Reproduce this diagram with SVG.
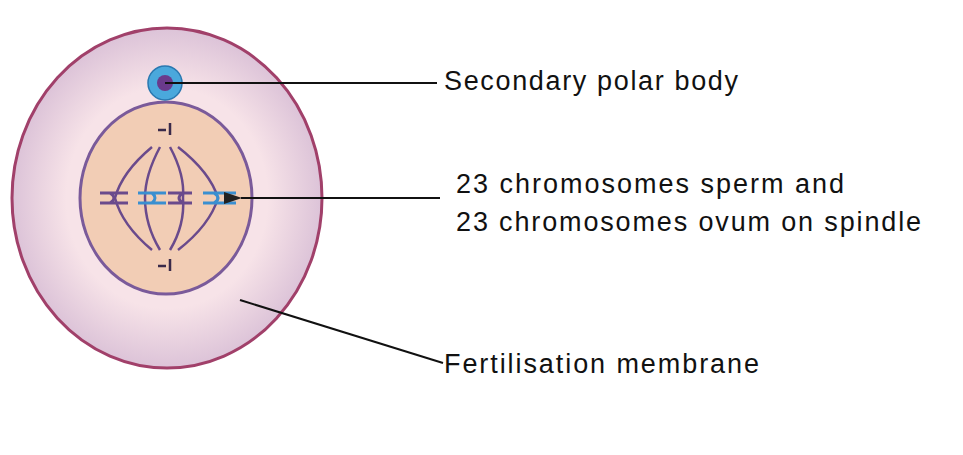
<svg xmlns="http://www.w3.org/2000/svg" width="963" height="455" viewBox="0 0 963 455">
<defs>
<radialGradient id="cyt" cx="0.5" cy="0.5" r="0.5"><stop offset="0.65" stop-color="#f7e3e8"/><stop offset="1" stop-color="#dcc3d8"/></radialGradient>
<marker id="ah" markerWidth="18" markerHeight="12" refX="1" refY="6" orient="auto" markerUnits="userSpaceOnUse"><path d="M18,0 L0,6 L18,12 Z" fill="#222"/></marker>
</defs>
<style>
.lbl{font-family:"Liberation Sans",Arial,sans-serif;font-size:27px;fill:#111}
.sp{fill:none;stroke:#6a4a8c;stroke-width:2.5}
.ch{fill:none;stroke-width:3}
.ln{stroke:#111;stroke-width:2;fill:none}
</style>
<rect width="963" height="455" fill="#fff"/>
<g id="cell">
<ellipse cx="167" cy="198" rx="155" ry="170" fill="url(#cyt)" stroke="#a1406a" stroke-width="3"/>
</g>
<g id="nucleus">
<ellipse cx="166" cy="198" rx="86" ry="96" fill="#f2cdb5" stroke="#7a5a9a" stroke-width="3"/>
<path class="sp" d="M152,147 Q122,172 115,198 Q122,225 152,250"/>
<path class="sp" d="M160,147 Q145,175 145,198 Q145,225 160,250"/>
<path class="sp" d="M170,147 Q185,175 183,198 Q185,225 170,250"/>
<path class="sp" d="M178,147 Q210,172 218,198 Q210,225 178,250"/>
<g stroke="#6a4a8c" class="ch"><path d="M100,193 H128 M100,203 H128 M110,193 Q118,198 110,203"/><path d="M168,193 H192 M168,203 H192 M183,193 Q175,198 183,203"/></g>
<g stroke="#3a8fd0" class="ch"><path d="M138,193 H166 M138,203 H166 M152,193 Q158,198 152,203"/><path d="M203,193 H236 M203,203 H236 M214,193 Q222,198 214,203"/></g>
<path d="M158,130 H166 M170,123 V135 M158,266 H166 M170,259 V271" stroke="#3a2a4a" stroke-width="2.5"/>
</g>
<g id="polar-body">
<circle cx="165" cy="83" r="17" fill="#4aa8dc" stroke="#2a78b0" stroke-width="1.5"/>
<circle cx="165" cy="83" r="8" fill="#6a3a8c"/>
</g>
<g id="connectors">
<line class="ln" x1="165" y1="83" x2="437" y2="83"/>
<line class="ln" x1="440" y1="198" x2="241" y2="198" marker-end="url(#ah)"/>
<line class="ln" x1="240" y1="300" x2="443" y2="363"/>
</g>
<g id="labels">
<text class="lbl" x="444" y="90" textLength="294">Secondary polar body</text>
<text class="lbl" x="456" y="193" textLength="388">23 chromosomes sperm and</text>
<text class="lbl" x="456" y="231" textLength="465">23 chromosomes ovum on spindle</text>
<text class="lbl" x="444" y="373" textLength="315">Fertilisation membrane</text>
</g>
</svg>
